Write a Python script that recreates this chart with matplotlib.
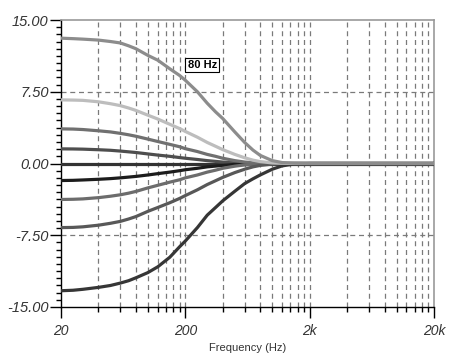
import numpy as np
import matplotlib
matplotlib.use("Agg")
from matplotlib import pyplot as plt
from matplotlib.ticker import FixedLocator, NullFormatter

freqs = [20, 25, 30, 40, 50, 60, 70, 80, 100, 120, 150, 180, 200, 250, 300, 350,
         400, 500, 600, 700, 800, 1000, 1200, 1500, 2000, 20000]

g_p13 = [13.1, 13.05, 13.0, 12.9, 12.75, 12.6, 12.3, 12.0, 11.3, 10.8, 9.9, 9.2, 8.7,
         7.5, 6.3, 5.4, 4.7, 3.3, 2.2, 1.4, 0.85, 0.3, 0.1, 0.03, 0.01, 0]
g_p6 = [6.65, 6.63, 6.6, 6.45, 6.25, 6.05, 5.8, 5.55, 5.05, 4.65, 4.1, 3.65, 3.35,
        2.75, 2.2, 1.8, 1.45, 0.95, 0.6, 0.35, 0.2, 0.06, 0.02, 0, 0, 0]
g_p3 = [3.62, 3.6, 3.55, 3.42, 3.3, 3.15, 3.0, 2.85, 2.55, 2.3, 2.0, 1.75, 1.55,
        1.25, 0.95, 0.75, 0.55, 0.3, 0.15, 0.08, 0.04, 0.01, 0, 0, 0, 0]
g_p1 = [1.53, 1.52, 1.5, 1.44, 1.38, 1.3, 1.22, 1.15, 1.0, 0.88, 0.75, 0.62, 0.55,
        0.42, 0.3, 0.22, 0.15, 0.08, 0.04, 0.02, 0.01, 0, 0, 0, 0, 0]
g_0 = [0] * 26
g_m1 = [-1.78, -1.76, -1.72, -1.65, -1.58, -1.5, -1.42, -1.35, -1.2, -1.06, -0.9, -0.75, -0.65,
        -0.5, -0.35, -0.27, -0.2, -0.1, -0.05, -0.02, -0.01, 0, 0, 0, 0, 0]
g_m3 = [-3.76, -3.74, -3.7, -3.57, -3.42, -3.27, -3.1, -2.92, -2.55, -2.28, -1.95, -1.7, -1.5,
        -1.2, -0.9, -0.7, -0.5, -0.28, -0.15, -0.08, -0.04, -0.01, 0, 0, 0, 0]
g_m6 = [-6.7, -6.68, -6.62, -6.45, -6.25, -6.05, -5.8, -5.55, -5.0, -4.6, -4.1, -3.65, -3.35,
        -2.75, -2.2, -1.8, -1.45, -0.95, -0.6, -0.35, -0.2, -0.06, -0.02, 0, 0, 0]
g_m13 = [-13.3, -13.25, -13.15, -12.95, -12.75, -12.5, -12.25, -11.95, -11.4, -10.8, -9.8, -8.7, -8.1,
         -6.7, -5.4, -4.6, -3.9, -2.9, -2.1, -1.6, -1.2, -0.6, -0.25, -0.05, 0, 0]

x_ticks = [20, 200, 2000, 20000]
x_labels = ["20", "200", "2k", "20k"]
y_ticks = [15, 7.5, 0, -7.5, -15]
y_labels = ["15.00", "7.50", "0.00", "-7.50", "-15.00"]
box_text = "80 Hz"

plt.rcParams['font.family'] = ['Liberation Sans', 'DejaVu Sans']

fig = plt.figure(figsize=(4.49, 3.58), dpi=100)
ax = fig.add_axes([61/449, 1-307/358, (434-61)/449, (307-20)/358])

# grid: minor lines at 2,4,6,8... times each decade start
minors = []
for dec in [20, 200, 2000]:
    minors += [dec * k for k in range(2, 10)]
for f in minors + [200, 2000]:
    ax.axvline(f, color='#7a7a7a', lw=0.9, ls=(0, (4, 3)), zorder=1)
for yv in [7.5, -7.5]:
    ax.axhline(yv, color='#7a7a7a', lw=0.9, ls=(0, (4, 3)), zorder=1)

curves = [
    (g_0, '#333333'),
    (g_p1, '#4e4e4e'),
    (g_m1, '#1c1c1c'),
    (g_p3, '#707070'),
    (g_m3, '#6c6c6c'),
    (g_m6, '#585858'),
    (g_m13, '#363636'),
    (g_p6, '#bdbdbd'),
    (g_p13, '#8c8c8c'),
]
for vals, c in curves:
    ax.semilogx(freqs, vals, color=c, lw=2.3, solid_capstyle='round',
                solid_joinstyle='round', zorder=3)

ax.text(274, 10.3, box_text, fontsize=8, fontweight='bold', ha='center', va='center',
        bbox=dict(boxstyle='square,pad=0.22', fc='white', ec='black', lw=0.8), zorder=5)

ax.set_xlim(20, 20000)
ax.set_ylim(-15, 15)
ax.set_xticks(x_ticks)
ax.set_xticklabels(x_labels, fontstyle='italic', fontsize=10)
ax.xaxis.set_minor_locator(FixedLocator(minors))
ax.xaxis.set_minor_formatter(NullFormatter())
ax.set_yticks(y_ticks)
ax.set_yticklabels(y_labels, fontstyle='italic', fontsize=10.5)
ax.yaxis.set_minor_locator(FixedLocator(np.arange(-15, 15.01, 0.75)))

ax.tick_params(axis='both', which='major', direction='out', length=8, width=1, color='black',
               labelcolor='#333333')
ax.tick_params(axis='both', which='minor', direction='out', length=3.5, width=1, color='black')
ax.tick_params(axis='y', pad=1)
ax.tick_params(axis='x', pad=4)

for s in ['left', 'bottom']:
    ax.spines[s].set_color('black')
    ax.spines[s].set_linewidth(1)
for s in ['top', 'right']:
    ax.spines[s].set_color('#999999')
    ax.spines[s].set_linewidth(1.2)

ax.set_xlabel("Frequency (Hz)", fontsize=8, color='#333333', labelpad=4)

fig.savefig("out.png", dpi=100)
